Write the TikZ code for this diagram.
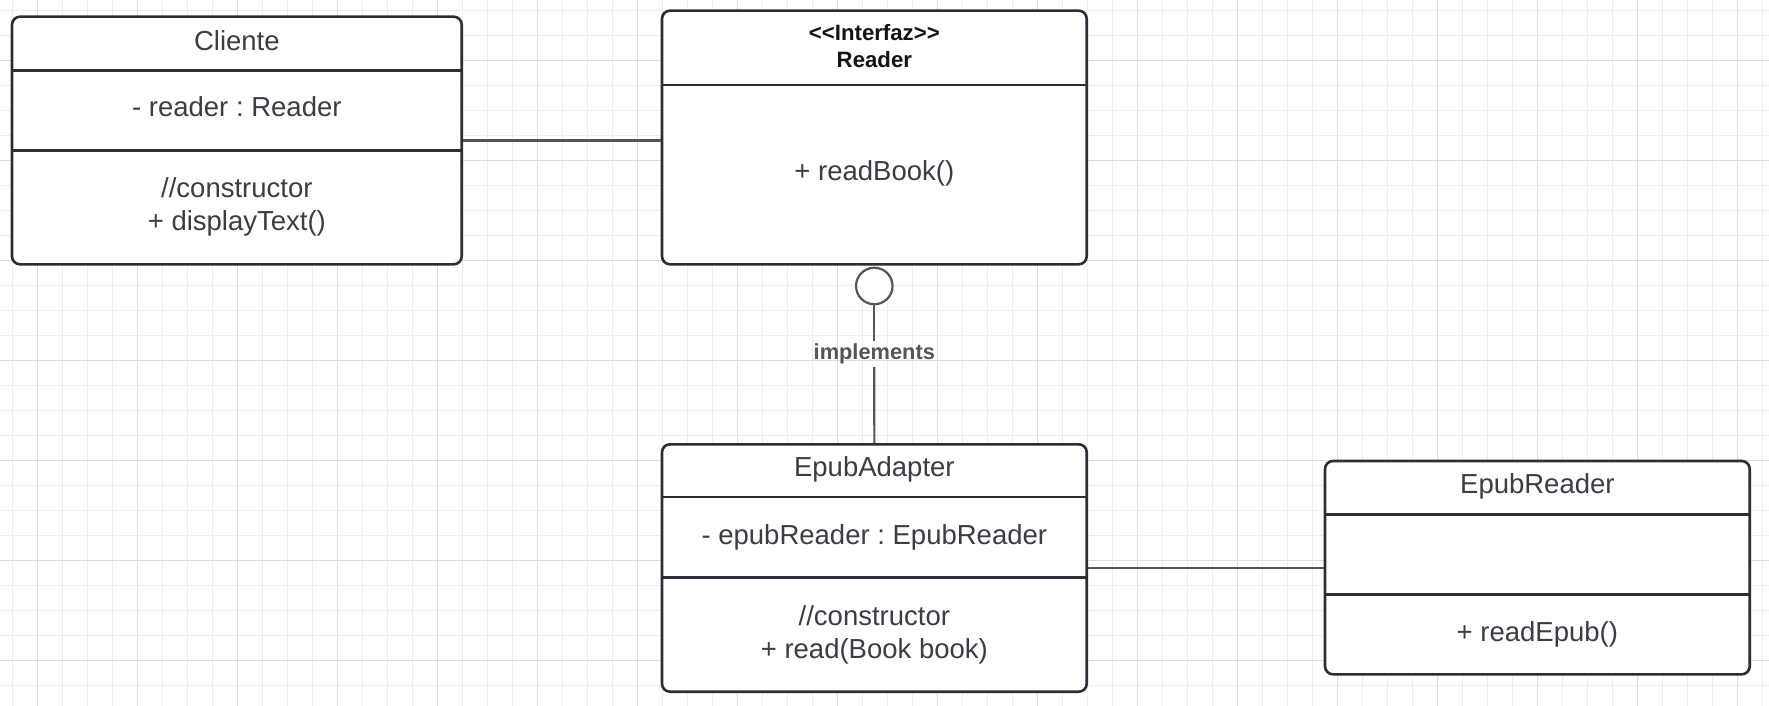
\documentclass[tikz,border=0pt]{standalone}
\usepackage{fontspec}
\setmainfont{Liberation Sans}
\frenchspacing
\definecolor{gridminor}{HTML}{EDEDED}
\definecolor{gridmajor}{HTML}{DDDDDD}
\definecolor{boxline}{HTML}{2B2E35}
\definecolor{txt}{HTML}{3A3D44}
\definecolor{conn}{HTML}{555555}
\begin{document}
\begin{tikzpicture}[x=1pt,y=-1pt,
  classbox/.style={draw=boxline, line width=2.6pt, rounded corners=8pt, fill=white, inner sep=0pt},
  divider/.style={draw=boxline, line width=2.6pt},
  txtnode/.style={text=txt, font=\fontsize{27.5}{33}\selectfont, align=center, inner sep=0pt},
  hdrnode/.style={text=black!92, font=\fontsize{22.2}{27}\selectfont\bfseries, align=center, inner sep=0pt},
  connector/.style={draw=conn, line width=2.2pt},
  lollipop/.style={circle, draw=conn, line width=2.2pt, fill=white, minimum size=36.5pt, inner sep=0pt},
  impl/.style={text=conn, font=\fontsize{21.8}{26}\selectfont\bfseries, inner sep=0pt, minimum height=26.3pt}
]
\useasboundingbox (0,0) rectangle (1769,706);
\fill[white] (0,0) rectangle (1769,706);
% grid
\foreach \i in {0,...,70} \draw[gridminor, line width=1pt] (12.3+25*\i,0) -- ++(0,706);
\foreach \i in {0,...,27} \draw[gridminor, line width=1pt] (0,10.3+25*\i) -- ++(1769,0);
\foreach \i in {0,...,17} \draw[gridmajor, line width=1.2pt] (37.3+100*\i,0) -- ++(0,706);
\foreach \i in {0,...,6} \draw[gridmajor, line width=1.2pt] (0,60.3+100*\i) -- ++(1769,0);

% class boxes
\node[classbox, minimum width=449.7pt, minimum height=247.6pt] (cliente) at (236.85,140.5) {};
\node[classbox, minimum width=424.7pt, minimum height=253.6pt] (reader) at (874.35,137.5) {};
\node[classbox, minimum width=424.7pt, minimum height=247.4pt] (adapter) at (874.35,568) {};
\node[classbox, minimum width=424.7pt, minimum height=213.3pt] (epub) at (1537.35,567.65) {};

% dividers
\draw[divider] (12,70.3) -- (461.7,70.3);
\draw[divider] (12,150.7) -- (461.7,150.7);
\draw[divider] (662,85) -- (1086.7,85);
\draw[divider] (662,497) -- (1086.7,497);
\draw[divider] (662,577.7) -- (1086.7,577.7);
\draw[divider] (1325,514.3) -- (1749.7,514.3);
\draw[divider] (1325,594.7) -- (1749.7,594.7);

% texts
\node[txtnode] (clienteName) at (236.85,40.7) {Cliente};
\node[txtnode] (clienteAttr) at (236.85,107) {- reader : Reader};
\node[txtnode] (clienteOps) at (236.85,207) {//constructor\\+ displayText()};

\node[hdrnode] (readerName) at (874.35,45.7) {<\kern0pt<Interfaz>\kern0pt>\\Reader};
\node[txtnode] (readerOps) at (874.35,173.5) {+ readBook()};

\node[txtnode] (adapterName) at (874.35,469.5) {EpubAdapter};
\node[txtnode] (adapterAttr) at (874.35,537) {- epubReader : EpubReader};
\node[txtnode] (adapterOps) at (874.35,635) {//constructor\\+ read(Book book)};

\node[txtnode] (epubName) at (1537.35,486.5) {EpubReader};
\node[txtnode] (epubOps) at (1537.35,634) {+ readEpub()};

% connectors
\draw[connector] (cliente.east) -- (cliente.east -| reader.west);
\draw[connector] (adapter.east) -- (adapter.east -| epub.west);

\node[lollipop] (lol) at (874.3,286) {};
\node[impl] (impl) at (874.3,353.85) {implements};
\draw[connector] (lol.south) -- (impl.north);
\draw[connector] (impl.south) -- (adapter.north);
\end{tikzpicture}
\end{document}
